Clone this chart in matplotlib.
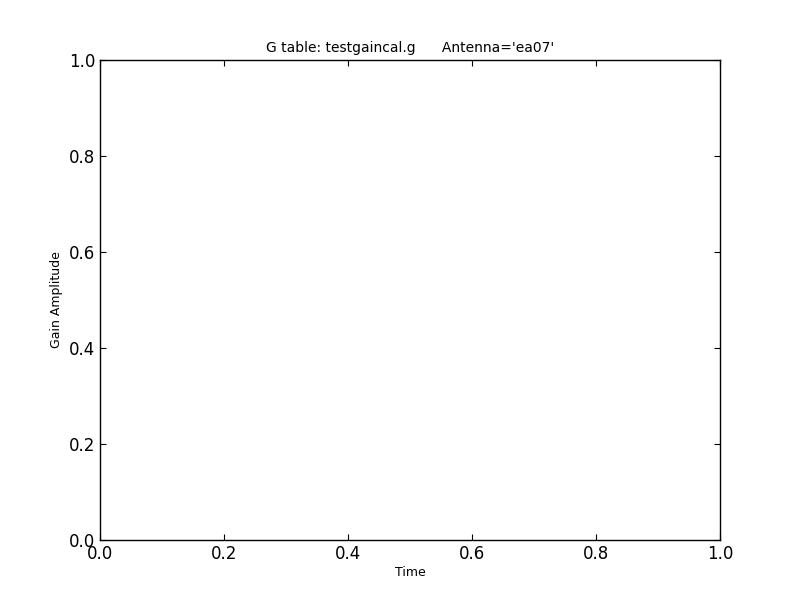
import matplotlib
matplotlib.use("Agg")
import matplotlib.pyplot as plt

caltable = "testgaincal.g"
antenna = "ea07"
xlabel = "Time"
ylabel = "Gain Amplitude"
xlim = (0.0, 1.0)
ylim = (0.0, 1.0)

fig = plt.figure(figsize=(8, 6), dpi=100)
ax = fig.add_axes([0.125, 0.1, 0.775, 0.8])
ax.set_xlim(*xlim)
ax.set_ylim(*ylim)

ax.tick_params(direction="in", top=True, right=True, labelsize=12, length=4, width=0.8)
for s in ax.spines.values():
    s.set_linewidth(1.0)

ax.set_title("G table: %s      Antenna='%s'" % (caltable, antenna), fontsize=10)
ax.set_xlabel(xlabel, fontsize=9, labelpad=2)
ax.set_ylabel(ylabel, fontsize=9)

fig.savefig("out.png", dpi=100)
